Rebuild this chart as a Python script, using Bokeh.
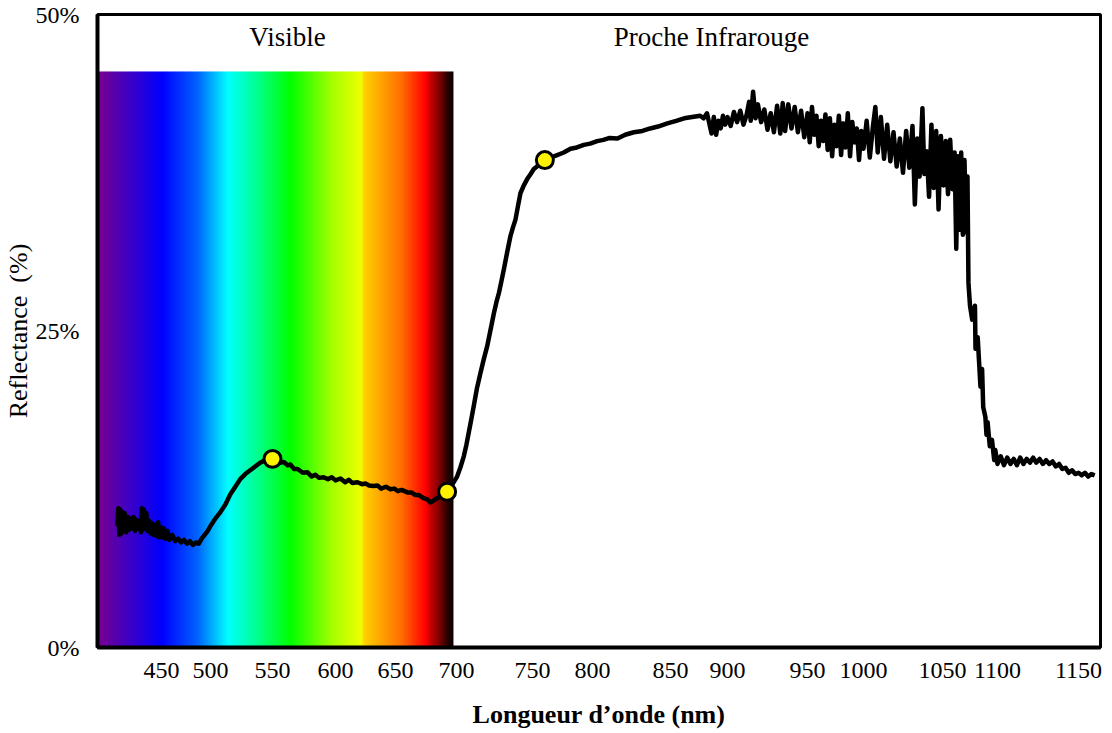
import numpy as np
from bokeh.plotting import figure
from bokeh.models import Range1d, FixedTicker, Label
from bokeh.embed import file_html
from bokeh.resources import INLINE

# ---------------- data ----------------
tick_nm = [450, 500, 550, 600, 650, 700, 750, 800, 850, 900, 950, 1000, 1050, 1100, 1150]
y_ticks = [0, 25, 50]
y_tick_labels = ["0%", "25%", "50%"]

# visible: noisy start and dip (nm, %)
vis_start = [(405.0, 9.6), (406.0, 11.0), (407.0, 8.9), (408.0, 10.9), (409.0, 9.0), (410.0, 10.7),
             (411.0, 9.2), (412.5, 10.6), (414.0, 9.1), (415.5, 10.3), (417.0, 9.3), (418.5, 10.2),
             (420.0, 9.4), (421.5, 10.3), (423.0, 9.2), (424.5, 10.1), (426.0, 9.4), (427.5, 10.0),
             (429.0, 9.1), (430.0, 11.0), (431.0, 9.3), (432.0, 10.9), (433.0, 9.4), (434.5, 10.6),
             (436.0, 9.2), (437.5, 10.0), (439.0, 9.0), (440.5, 9.8), (442.0, 8.9), (443.5, 9.7),
             (445.0, 8.8), (446.5, 9.9), (448.0, 8.7), (449.5, 9.5), (451.0, 8.7), (452.5, 9.4),
             (454.0, 8.6), (456.0, 9.2), (458.0, 8.5), (461.0, 8.9), (464.0, 8.4), (467.0, 8.6),
             (470.0, 8.3), (473.0, 8.5), (476.0, 8.2), (479.0, 8.4), (482.0, 8.1), (485.0, 8.3),
             (488.0, 8.2), (491.0, 8.6), (494.0, 8.9), (497.0, 9.2), (500.0, 9.6)]
# green peak
vis_peak = [(504, 10.2), (508, 10.7), (512, 11.3), (516, 12.1), (520, 12.7), (524, 13.3), (528, 13.7),
            (532, 14.0), (536, 14.3), (540, 14.6), (544, 14.8), (548, 14.9), (550, 14.9)]
# decline toward red
vis_fall = [(553, 14.85), (556, 14.6), (559, 14.65), (562, 14.4), (564.3, 14.45), (567, 14.1),
            (570, 14.1), (574, 13.8), (577.8, 13.85), (581, 13.5), (584, 13.65), (587, 13.4),
            (590.5, 13.45), (594, 13.3), (597, 13.45), (600, 13.2), (604.2, 13.35), (608, 13.05),
            (611, 13.25), (614, 13.0), (618.3, 13.05), (622, 12.9), (625, 12.95), (628, 12.8),
            (631.7, 12.75), (635, 12.8), (638, 12.55), (642, 12.7), (645.8, 12.5), (649, 12.55),
            (652, 12.35), (655, 12.45), (659.8, 12.25), (663, 12.25), (666, 12.05), (669, 12.05),
            (673, 11.8), (676, 11.7), (678.7, 11.45), (681, 11.6), (684, 11.8), (687, 11.9),
            (690, 12.1), (692.3, 12.3)]
# red edge
red_edge = [(696, 12.8), (700.4, 13.5), (702.5, 14.2), (704.8, 15.1), (706.5, 16.0), (708.1, 17.0),
            (710, 18.2), (711.4, 19.1), (713.5, 20.5), (715.8, 21.7), (718, 22.8), (720.2, 23.8),
            (722.4, 25.1), (724.6, 26.4), (726.3, 27.3), (727.9, 28.0), (729.5, 28.9), (731.2, 29.9),
            (733.3, 31.2), (735.5, 32.5), (737.2, 33.2), (738.8, 33.8), (740.5, 34.9), (742.1, 35.9),
            (744.3, 36.5), (746.5, 37.0), (748.8, 37.4), (751.1, 37.8), (755, 38.1), (760.3, 38.5)]
# NIR shoulder
nir_shoulder = [(765, 38.7), (770.6, 38.9), (776, 39.1), (781.7, 39.4), (787, 39.5), (792.8, 39.7),
                (798, 39.8), (803, 40.0), (807, 40.1), (811, 40.25), (816, 40.2), (821, 40.5),
                (826.5, 40.7), (832, 40.8), (837, 41.0), (842, 41.15), (848, 41.4), (855, 41.6),
                (862, 41.8), (869, 41.9), (876, 42.0)]
# NIR noisy plateau
nir_noise = [(879, 41.8), (882, 42.2), (884, 41.4), (886, 40.6), (888, 41.9), (890, 40.5), (892, 41.6),
             (894, 41.0), (896, 42.0), (898, 41.3), (900, 41.9), (902, 41.2), (904, 42.3), (906, 41.5),
             (908, 42.4), (910, 41.3), (912, 42.1), (913.5, 43.1), (914.5, 41.6), (916, 43.9),
             (917.5, 41.8), (919, 42.9), (921, 41.5), (923, 42.5), (925, 40.9), (927, 42.2),
             (929, 40.7), (931, 42.8), (933, 40.6), (934.5, 43.0), (936, 40.8), (938, 42.9),
             (940, 41.0), (942, 42.7), (944, 40.7), (946, 42.4), (948, 40.3), (950, 42.2),
             (952, 39.9), (954, 42.7), (956, 40.5), (958, 42.0), (960, 39.6), (962, 41.6),
             (964, 40.0), (966, 42.1), (968, 39.3), (970, 41.8), (972, 38.8), (974, 41.3),
             (976, 39.6), (978, 42.0), (980, 38.9), (982, 41.4), (984, 39.5), (986, 42.2),
             (988, 38.8), (990, 41.5), (992, 39.9), (994, 41.0), (996, 38.5), (998, 40.8),
             (1000, 39.4), (1002, 41.6), (1004, 38.7), (1006, 41.2), (1007.5, 42.7), (1009, 39.1),
             (1011, 41.9), (1013, 38.6), (1015, 41.3), (1017, 38.4), (1019, 40.7), (1021, 38.0),
             (1023, 40.2), (1025, 37.5), (1027, 40.8), (1029, 37.9), (1031, 41.2), (1032.5, 35.0),
             (1034, 40.2), (1035.5, 37.2), (1037.3, 42.6), (1038.5, 37.4), (1040, 39.2),
             (1041.5, 35.6), (1043, 41.3), (1044.5, 36.3), (1046, 40.8), (1047.5, 34.6),
             (1049, 40.4), (1051, 36.5), (1053, 40.0), (1055, 35.8), (1057, 40.1), (1059, 36.2),
             (1061, 39.1), (1062.5, 31.5), (1064, 38.8), (1065.5, 33.0), (1067, 39.1), (1068.5, 32.6),
             (1070, 38.5), (1071.5, 32.8), (1072.7, 37.2)]
# water-band drop
nir_drop = [(1073.6, 28.8), (1075, 27.0), (1077, 25.9), (1079.5, 27.0), (1080, 23.6), (1082, 24.5),
            (1084.5, 20.6), (1086, 22.0), (1087, 19.0), (1089, 18.2), (1090, 16.8), (1091, 17.8),
            (1093, 15.9), (1095, 16.4), (1097, 14.8), (1098, 15.6), (1100, 14.5)]
# tail
nir_tail = [(1102, 15.1), (1104, 14.4), (1106, 15.0), (1108, 14.5), (1110, 14.9), (1112, 14.4),
            (1114, 15.0), (1116, 14.5), (1118, 14.9), (1120, 14.6), (1122, 15.0), (1124, 14.6),
            (1126, 14.9), (1128, 14.5), (1130, 14.8), (1132, 14.5), (1134, 14.7), (1136, 14.3),
            (1138, 14.5), (1140, 14.1), (1142, 14.2), (1144, 13.8), (1146, 14.0), (1148, 13.7),
            (1150, 13.8), (1152, 13.6), (1154, 13.8), (1156, 13.5), (1158, 13.7), (1160, 13.6)]

marker_nm = [550, 692.3, 760.3]
marker_pct = [14.9, 12.3, 38.5]

# ---------------- layout constants ----------------
FRAME_W, FRAME_H = 1003, 633
# position of each tick label along the (irregular) wavelength axis, in frame pixels
tick_pos = [64, 113, 175, 238, 298, 359, 435, 495, 573, 630, 710, 766, 845, 900, 981]
axis_nm_ends = (384.7, 1163.6)


def warp(nm):
    return np.interp(nm, [axis_nm_ends[0]] + tick_nm + [axis_nm_ends[1]],
                     [0] + tick_pos + [FRAME_W])


curve = vis_start + vis_peak + vis_fall + red_edge + nir_shoulder + nir_noise + nir_drop + nir_tail
curve_nm = np.array([c[0] for c in curve], dtype=float)
curve_pct = np.array([c[1] for c in curve], dtype=float)

FONT = "Liberation Serif"

p = figure(frame_width=FRAME_W, frame_height=FRAME_H,
           x_range=Range1d(0, FRAME_W), y_range=Range1d(0, 50),
           output_backend="svg", toolbar_location=None,
           min_border_left=89, min_border_top=14, min_border_right=4, min_border_bottom=72,
           background_fill_color="white", border_fill_color="white")
p.grid.visible = False
p.outline_line_color = "black"
p.outline_line_width = 3
p.outline_line_alpha = 1.0

# spectrum band
stops_t = [0.0, 0.18, 0.28, 0.365, 0.44, 0.54, 0.66, 0.74, 0.747, 0.85, 0.92, 0.935, 0.955, 0.97, 0.985, 1.0]
stops_rgb = [(120, 0, 144), (0, 0, 255), (0, 100, 255), (0, 255, 255), (0, 255, 154), (0, 255, 0),
             (168, 255, 0), (240, 255, 0), (255, 210, 0), (255, 112, 0), (255, 0, 0), (192, 0, 0),
             (138, 0, 0), (80, 0, 0), (32, 0, 0), (0, 0, 0)]
band_right = float(warp(697.5))
N = int(band_right * 2)
t = (np.arange(N) + 0.5) / N
img = np.empty((1, N), dtype=np.uint32)
view = img.view(dtype=np.uint8).reshape((1, N, 4))
for k in range(3):
    view[0, :, k] = np.interp(t, stops_t, [c[k] for c in stops_rgb]).astype(np.uint8)
view[0, :, 3] = 255
p.image_rgba(image=[img], x=0, y=0, dw=band_right, dh=45.5)

# curve
p.line(warp(curve_nm), curve_pct, line_color="black", line_width=4.5, line_join="round")
p.scatter(warp(np.array(marker_nm)), marker_pct, size=17, fill_color="#fff200",
          line_color="black", line_width=3)

# section headers
p.add_layout(Label(x=190, y=48.2, text="Visible", text_align="center", text_baseline="middle",
                   text_font=FONT, text_font_size="27px", text_color="black"))
p.add_layout(Label(x=614, y=48.2, text="Proche Infrarouge", text_align="center",
                   text_baseline="middle", text_font=FONT, text_font_size="27px", text_color="black"))

# axes
xa = p.xaxis[0]
xa.ticker = FixedTicker(ticks=tick_pos)
xa.major_label_overrides = {tp: str(nm) for tp, nm in zip(tick_pos, tick_nm)}
xa.major_tick_line_color = None
xa.minor_tick_line_color = None
xa.major_label_standoff = 9
xa.major_label_text_font = FONT
xa.major_label_text_font_size = "24px"
xa.major_label_text_color = "black"
xa.axis_line_color = "black"
xa.axis_line_width = 4
xa.axis_label = "Longueur d\u2019onde (nm)"
xa.axis_label_text_font = FONT
xa.axis_label_text_font_size = "26px"
xa.axis_label_text_font_style = "bold"
xa.axis_label_text_color = "black"
xa.axis_label_standoff = 19

ya = p.yaxis[0]
ya.ticker = FixedTicker(ticks=y_ticks)
ya.major_label_overrides = {v: s for v, s in zip(y_ticks, y_tick_labels)}
ya.major_tick_line_color = None
ya.minor_tick_line_color = None
ya.major_label_standoff = 12
ya.major_label_text_font = FONT
ya.major_label_text_font_size = "24px"
ya.major_label_text_color = "black"
ya.axis_line_color = "black"
ya.axis_line_width = 4
ya.axis_label = "Reflectance\u00a0 (%)"
ya.axis_label_text_font = FONT
ya.axis_label_text_font_size = "26px"
ya.axis_label_text_font_style = "normal"
ya.axis_label_text_color = "black"
ya.axis_label_standoff = 0

open("out.html", "w").write(file_html(p, INLINE))
